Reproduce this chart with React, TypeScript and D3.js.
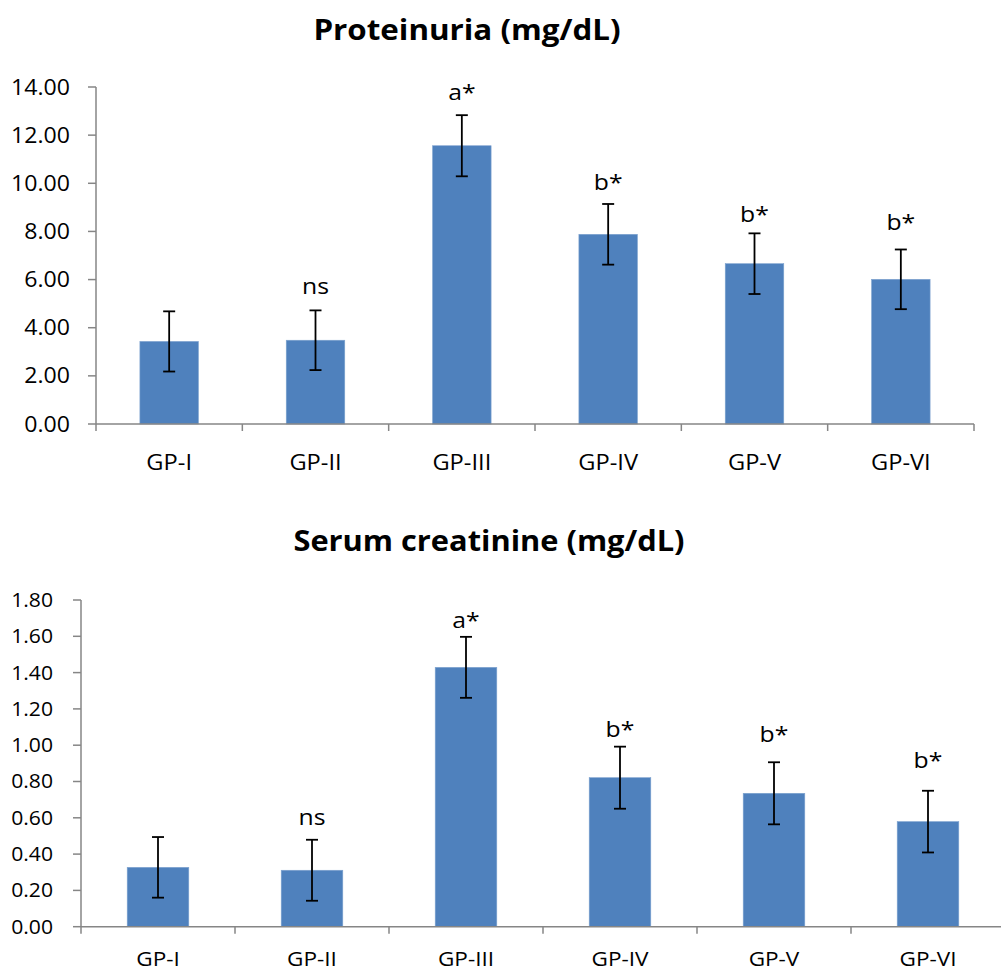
import React, { useRef, useEffect } from "react";
import * as d3 from "d3";

// groups on the x axis
const groups = ["GP-I", "GP-II", "GP-III", "GP-IV", "GP-V", "GP-VI"];

// proteinuria (mg/dL)
const proteinMean = [3.43, 3.48, 11.56, 7.88, 6.66, 6.01];
const proteinErr = [1.25, 1.24, 1.27, 1.26, 1.26, 1.24];
const proteinMarks = ["", "ns", "a*", "b*", "b*", "b*"];
const proteinMarkAt = [0, 5.4, 13.46, 9.72, 8.4, 8.06];
const proteinTicks = [0, 2, 4, 6, 8, 10, 12, 14];

// serum creatinine (mg/dL)
const creatMean = [0.327, 0.311, 1.429, 0.821, 0.735, 0.579];
const creatErr = [0.167, 0.168, 0.168, 0.171, 0.171, 0.17];
const creatMarks = ["", "ns", "a*", "b*", "b*", "b*"];
const creatMarkAt = [0, 0.56, 1.646, 1.045, 1.019, 0.874];
const creatTicks = [0, 0.2, 0.4, 0.6, 0.8, 1.0, 1.2, 1.4, 1.6, 1.8];

const FONT = "'Open Sans', 'DejaVu Sans', sans-serif";

type Panel = {
  title: string;
  mean: number[];
  err: number[];
  marks: string[];
  markAt: number[];
  ticks: number[];
  x0: number; x1: number; y0: number; y1: number;
  titleX: number; titleY: number;
  titleSize: number; tickSize: number; catSize: number;
  labelY: number; tickGap: number;
};

const SX = 1.1;

const panels: Panel[] = [
  {
    title: "Proteinuria (mg/dL)", mean: proteinMean, err: proteinErr,
    marks: proteinMarks, markAt: proteinMarkAt, ticks: proteinTicks,
    x0: 96, x1: 974, y0: 424, y1: 87, titleX: 467, titleY: 40,
    titleSize: 28.5, tickSize: 21, catSize: 21.5,
    labelY: 470, tickGap: 26,
  },
  {
    title: "Serum creatinine (mg/dL)", mean: creatMean, err: creatErr,
    marks: creatMarks, markAt: creatMarkAt, ticks: creatTicks,
    x0: 81, x1: 1005, y0: 926.7, y1: 600, titleX: 489, titleY: 551,
    titleSize: 28, tickSize: 19.2, catSize: 20.5,
    labelY: 966, tickGap: 28,
  },
];

const App = () => {
  const svgRef = useRef(null);

  useEffect(() => {
    const svg = d3.select(svgRef.current);
    svg.selectAll("*").remove();

    const txt = (g, s, x, y, size, anchor, weight = "normal") =>
      g.append("text")
        .attr("transform", `translate(${x},${y}) scale(${SX},1)`)
        .attr("text-anchor", anchor)
        .attr("font-family", FONT)
        .attr("font-size", size)
        .attr("font-weight", weight)
        .attr("fill", "#000")
        .text(s);

    panels.forEach((p) => {
      const g = svg.append("g");
      const top = p.ticks[p.ticks.length - 1];

      const x = d3.scaleBand().domain(groups).range([p.x0, p.x1])
        .paddingInner(0.6).paddingOuter(0.3);
      const xb = d3.scaleBand().domain(groups).range([p.x0, p.x1]);
      const y = d3.scaleLinear().domain([0, top]).range([p.y0, p.y1]);

      // title
      txt(g, p.title, p.titleX, p.titleY, p.titleSize, "middle", "bold");

      // y axis
      g.append("line").attr("x1", p.x0).attr("x2", p.x0)
        .attr("y1", y(0)).attr("y2", y(top))
        .attr("stroke", "#868686").attr("stroke-width", 1.5);
      p.ticks.forEach((t) => {
        g.append("line").attr("x1", p.x0 - 8).attr("x2", p.x0)
          .attr("y1", y(t)).attr("y2", y(t))
          .attr("stroke", "#868686").attr("stroke-width", 1.5);
        txt(g, t.toFixed(2), p.x0 - p.tickGap, y(t) + p.tickSize * 0.36, p.tickSize, "end");
      });

      // bars
      groups.forEach((k, i) => {
        g.append("rect")
          .attr("x", x(k)).attr("width", x.bandwidth())
          .attr("y", y(p.mean[i])).attr("height", y(0) - y(p.mean[i]))
          .attr("fill", "#4F81BD").attr("stroke", "#7FA3CF").attr("stroke-width", 0.6);
      });

      // x axis
      g.append("line").attr("x1", p.x0).attr("x2", p.x1)
        .attr("y1", y(0)).attr("y2", y(0))
        .attr("stroke", "#868686").attr("stroke-width", 1.5);
      [...groups.map((k) => xb(k)), p.x1].forEach((v) => {
        g.append("line").attr("x1", v).attr("x2", v)
          .attr("y1", y(0)).attr("y2", y(0) + 7)
          .attr("stroke", "#868686").attr("stroke-width", 1.5);
      });
      groups.forEach((k) => {
        txt(g, k, xb(k) + xb.bandwidth() / 2, p.labelY, p.catSize, "middle");
      });

      // error bars + marks
      groups.forEach((k, i) => {
        const cx = x(k) + x.bandwidth() / 2;
        const hi = y(p.mean[i] + p.err[i]);
        const lo = y(p.mean[i] - p.err[i]);
        g.append("line").attr("x1", cx).attr("x2", cx).attr("y1", hi).attr("y2", lo)
          .attr("stroke", "#000").attr("stroke-width", 1.8);
        [hi, lo].forEach((v) => {
          g.append("line").attr("x1", cx - 6).attr("x2", cx + 6).attr("y1", v).attr("y2", v)
            .attr("stroke", "#000").attr("stroke-width", 1.8);
        });
        if (p.marks[i]) {
          txt(g, p.marks[i], cx, y(p.markAt[i]), 22.5, "middle");
        }
      });
    });
  }, [svgRef.current]);

  return (
    <svg ref={svgRef} width={1001} height={972}
      style={{ position: "absolute", left: 0, top: 0, background: "#fff" }} />
  );
};

export default App;
